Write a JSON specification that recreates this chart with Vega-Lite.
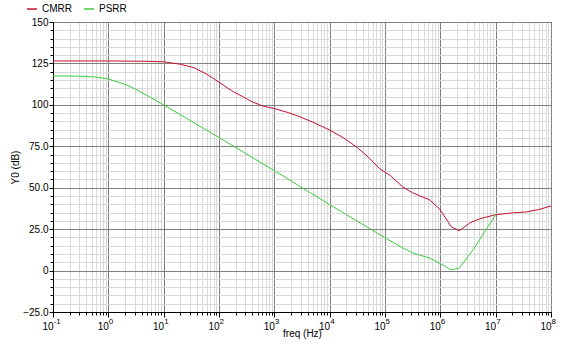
{
  "$schema": "https://vega.github.io/schema/vega-lite/v6.json",
  "width": 498,
  "height": 290,
  "autosize": {"type": "none"},
  "padding": {"left": 53, "top": 22, "right": 18, "bottom": 34},
  "background": "white",
  "config": {
    "view": {"stroke": "black", "strokeWidth": 1},
    "font": "Liberation Sans",
    "axis": {"labelFont": "Liberation Sans", "titleFont": "Liberation Sans", "labelFontSize": 10, "titleFontSize": 10, "titleFontWeight": "normal", "labelColor": "black", "titleColor": "black", "domainColor": "black", "tickColor": "black"}
  },
  "data": {
    "values": [
      {"freq": 0.1, "value": 126.5, "series": "CMRR"},
      {"freq": 1, "value": 126.5, "series": "CMRR"},
      {"freq": 5, "value": 126.3, "series": "CMRR"},
      {"freq": 10, "value": 126, "series": "CMRR"},
      {"freq": 20, "value": 124.5, "series": "CMRR"},
      {"freq": 35, "value": 122.5, "series": "CMRR"},
      {"freq": 60, "value": 118.5, "series": "CMRR"},
      {"freq": 100, "value": 113.7, "series": "CMRR"},
      {"freq": 170, "value": 108.5, "series": "CMRR"},
      {"freq": 270, "value": 104.9, "series": "CMRR"},
      {"freq": 400, "value": 101.8, "series": "CMRR"},
      {"freq": 630, "value": 99.2, "series": "CMRR"},
      {"freq": 1000, "value": 97.8, "series": "CMRR"},
      {"freq": 1800, "value": 95.3, "series": "CMRR"},
      {"freq": 2900, "value": 92.8, "series": "CMRR"},
      {"freq": 5000, "value": 89.5, "series": "CMRR"},
      {"freq": 10000, "value": 84.8, "series": "CMRR"},
      {"freq": 18000, "value": 80, "series": "CMRR"},
      {"freq": 30000, "value": 74.8, "series": "CMRR"},
      {"freq": 50000, "value": 68.5, "series": "CMRR"},
      {"freq": 80000, "value": 61.5, "series": "CMRR"},
      {"freq": 123000, "value": 57.5, "series": "CMRR"},
      {"freq": 209000, "value": 50.5, "series": "CMRR"},
      {"freq": 316000, "value": 46.9, "series": "CMRR"},
      {"freq": 645000, "value": 42.6, "series": "CMRR"},
      {"freq": 980000, "value": 37, "series": "CMRR"},
      {"freq": 1580000, "value": 26.4, "series": "CMRR"},
      {"freq": 2200000, "value": 24, "series": "CMRR"},
      {"freq": 3400000, "value": 28.7, "series": "CMRR"},
      {"freq": 5100000, "value": 31.2, "series": "CMRR"},
      {"freq": 9600000, "value": 33.6, "series": "CMRR"},
      {"freq": 20000000, "value": 34.8, "series": "CMRR"},
      {"freq": 36000000, "value": 35.4, "series": "CMRR"},
      {"freq": 60000000, "value": 36.8, "series": "CMRR"},
      {"freq": 100000000, "value": 39, "series": "CMRR"},
      {"freq": 0.1, "value": 117.5, "series": "PSRR"},
      {"freq": 0.3, "value": 117.3, "series": "PSRR"},
      {"freq": 0.6, "value": 116.8, "series": "PSRR"},
      {"freq": 1, "value": 115.6, "series": "PSRR"},
      {"freq": 2, "value": 112.4, "series": "PSRR"},
      {"freq": 3, "value": 109.7, "series": "PSRR"},
      {"freq": 5, "value": 105.7, "series": "PSRR"},
      {"freq": 10, "value": 100, "series": "PSRR"},
      {"freq": 100, "value": 80.3, "series": "PSRR"},
      {"freq": 1000, "value": 60.3, "series": "PSRR"},
      {"freq": 10000, "value": 39.8, "series": "PSRR"},
      {"freq": 100000, "value": 19.8, "series": "PSRR"},
      {"freq": 200000, "value": 14, "series": "PSRR"},
      {"freq": 316000, "value": 10.7, "series": "PSRR"},
      {"freq": 645000, "value": 7.5, "series": "PSRR"},
      {"freq": 1000000, "value": 4.2, "series": "PSRR"},
      {"freq": 1580000, "value": 0.4, "series": "PSRR"},
      {"freq": 2200000, "value": 1.6, "series": "PSRR"},
      {"freq": 3900000, "value": 12.5, "series": "PSRR"},
      {"freq": 10000000, "value": 33.6, "series": "PSRR"}
    ]
  },
  "resolve": {"axis": {"x": "independent", "y": "independent"}},
  "layer": [
    {
      "mark": {"type": "line", "opacity": 0},
      "encoding": {
        "x": {"field": "freq", "type": "quantitative",
          "scale": {"type": "log", "domain": [0.1, 100000000], "nice": false},
          "axis": {"orient": "bottom", "values": [0.2,0.3,0.4,0.5,0.6,0.7,0.8,0.9,2,3,4,5,6,7,8,9,20,30,40,50,60,70,80,90,200,300,400,500,600,700,800,900,2000,3000,4000,5000,6000,7000,8000,9000,20000,30000,40000,50000,60000,70000,80000,90000,200000,300000,400000,500000,600000,700000,800000,900000,2000000,3000000,4000000,5000000,6000000,7000000,8000000,9000000,20000000,30000000,40000000,50000000,60000000,70000000,80000000,90000000],
            "labels": false, "title": null, "domain": false, "tickSize": 3, "grid": true, "gridColor": "#d9d9d9", "gridWidth": 1}},
        "y": {"field": "value", "type": "quantitative",
          "scale": {"domain": [-25, 150], "nice": false},
          "axis": {"orient": "left", "values": [-20,-15,-10,-5,5,10,15,20,30,35,40,45,55,60,65,70,80,85,90,95,105,110,115,120,130,135,140,145],
            "labels": false, "title": null, "domain": false, "tickSize": 3, "grid": true, "gridColor": "#d9d9d9", "gridWidth": 1}}
      }
    },
    {
      "mark": {"type": "line", "strokeWidth": 1},
      "encoding": {
        "x": {"field": "freq", "type": "quantitative",
          "scale": {"type": "log", "domain": [0.1, 100000000], "nice": false},
          "axis": {"orient": "bottom", "values": [0.1,1,10,100,1000,10000,100000,1000000,10000000,100000000],
            "labelExpr": "'10'", "labelAlign": "right", "labelDx": -1, "labelOverlap": false, "labelBound": false,
            "title": "freq (Hz)", "titlePadding": -3, "tickSize": 5, "labelPadding": 4, "grid": true, "gridColor": "#808080", "gridWidth": 1, "labelFlush": false}},
        "y": {"field": "value", "type": "quantitative",
          "scale": {"domain": [-25, 150], "nice": false},
          "axis": {"orient": "left", "values": [-25,0,25,50,75,100,125,150],
            "labelExpr": "datum.value == 0 ? '0' : (abs(datum.value) < 100 ? format(datum.value, '.1f') : format(datum.value, 'd'))",
            "title": "Y0 (dB)", "titlePadding": 2, "tickSize": 4, "labelPadding": 1, "grid": true, "gridColor": "#808080", "gridWidth": 1}},
        "color": {"field": "series", "type": "nominal",
          "scale": {"domain": ["CMRR", "PSRR"], "range": ["#c8102e", "#3ccc3c"]},
          "legend": {"orient": "none", "legendX": -27, "legendY": -19, "direction": "horizontal", "title": null, "symbolType": "stroke", "symbolSize": 100, "symbolStrokeWidth": 1.5, "labelFont": "Liberation Sans", "labelFontSize": 10, "labelColor": "black", "columnPadding": 9, "labelOffset": 4}}
      }
    },
    {
      "mark": {"type": "line", "opacity": 0},
      "encoding": {
        "x": {"field": "freq", "type": "quantitative",
          "scale": {"type": "log", "domain": [0.1, 100000000], "nice": false},
          "axis": {"orient": "bottom", "values": [0.1,1,10,100,1000,10000,100000,1000000,10000000,100000000],
            "labelExpr": "datum.value < 0.5 ? '-1' : datum.value < 5 ? '0' : datum.value < 50 ? '1' : datum.value < 500 ? '2' : datum.value < 5000 ? '3' : datum.value < 50000 ? '4' : datum.value < 500000 ? '5' : datum.value < 5000000 ? '6' : datum.value < 50000000 ? '7' : '8'",
            "labelFontSize": 8, "labelAlign": "left", "labelDx": 1, "labelPadding": 5, "labelFlush": false, "labelOverlap": false, "labelBound": false,
            "title": null, "domain": false, "tickSize": 0, "tickOpacity": 0, "grid": false}}
      }
    }
  ]
}
